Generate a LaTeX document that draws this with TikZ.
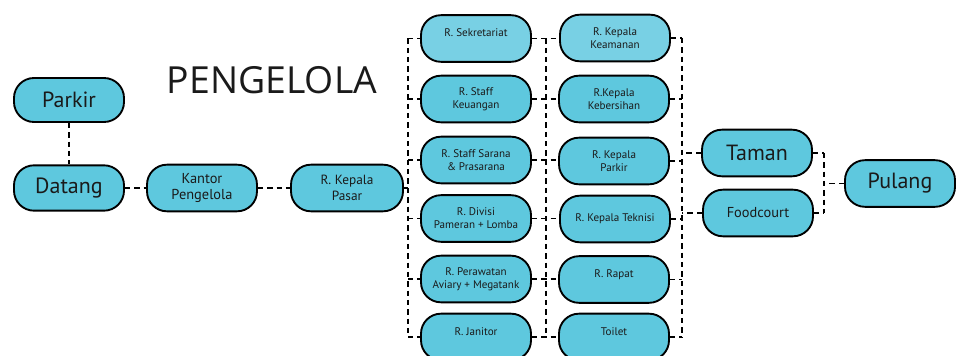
\documentclass[tikz,border=0pt]{standalone}
\usepackage{fontspec}
\setmainfont{PT Sans}
\newfontfamily\titlefont{Open Sans}
\definecolor{boxfill}{HTML}{5EC8DE}
\definecolor{boxlight}{HTML}{78D0E4}
\definecolor{txt}{HTML}{1A1A1A}
\begin{document}
\begin{tikzpicture}[x=0.75pt,y=-0.75pt,
  box/.style={draw=black, line width=1.4pt, fill=boxfill, rounded corners=15pt,
    minimum width=82.5pt, minimum height=35pt, inner sep=0pt, align=center,
    text=txt, font=\fontsize{8.3pt}{9.8pt}\selectfont},
  bigbox/.style={box, font=\fontsize{16.5pt}{18pt}\selectfont},
  midbox/.style={box, font=\fontsize{10.8pt}{12pt}\selectfont},
  link/.style={draw=black, line width=1.1pt, dash pattern=on 4pt off 3pt}]
\useasboundingbox (0,0) rectangle (956,356);
% title
\node[font=\titlefont\fontsize{28pt}{30pt}\selectfont, text=txt] (title) at (272,80) {PENGELOLA};
% left part
\node[bigbox, minimum height=33pt] (parkir) at (69,100) {Parkir};
\node[bigbox, minimum height=34pt] (datang) at (69,188) {Datang};
\node[midbox] (kantor) at (202,188) {Kantor\\Pengelola};
\node[midbox, font=\fontsize{10pt}{12pt}\selectfont, minimum width=84pt] (kpasar) at (347,188) {R. Kepala\\Pasar};
% column 1
\node[box, fill=boxlight] (a1) at (476,38.5) {R. Sekretariat\\[-1pt]\phantom{X}};
\node[box] (a2) at (476,99) {R. Staff\\Keuangan};
\node[box] (a3) at (476,160) {R. Staff Sarana\\\& Prasarana};
\node[box] (a4) at (476,218.5) {R. Divisi\\Pameran + Lomba};
\node[box] (a5) at (476,279) {R. Perawatan\\Aviary + Megatank};
\node[box] (a6) at (476,337) {R. Janitor\\[-1pt]\phantom{X}};
% column 2
\node[box, fill=boxlight] (b1) at (615,38) {R. Kepala\\Keamanan};
\node[box] (b2) at (614,99) {R.Kepala\\Kebersihan};
\node[box] (b3) at (614,161) {R. Kepala\\Parkir};
\node[box] (b4) at (615,219) {R. Kepala Teknisi};
\node[box] (b5) at (614,279.5) {R. Rapat\\[-1pt]\phantom{X}};
\node[box] (b6) at (614,337) {Toilet\\[-1pt]\phantom{X}};
% right part
\node[bigbox] (taman) at (757,153) {Taman};
\node[midbox] (food) at (758,213) {Foodcourt};
\node[bigbox] (pulang) at (900,183.5) {Pulang};
% bus coordinates
\coordinate (busL) at (408,0);
\coordinate (busM) at (546,0);
\coordinate (busR) at (682,0);
\coordinate (busF) at (824,0);
% links left
\draw[link] (parkir) -- (datang);
\draw[link] (datang) -- (kantor);
\draw[link] (kantor) -- (kpasar);
\draw[link] (kpasar.east) -- (busL |- kpasar.east);
\draw[link] (busL |- a1.west) -- (busL |- a6.west);
\foreach \n in {a1,a2,a3,a4,a5,a6}{
  \draw[link] (busL |- \n.west) -- (\n.west);
}
% links middle
\draw[link] (busM |- a1.east) -- (busM |- a6.east);
\draw[link] (a1.east) -- (b1.west |- a1.east);
\draw[link] (a2.east) -- (b2.west |- a2.east);
\draw[link] (a3.east) -- (b3.west |- a3.east);
\draw[link] (a4.east) -- (b4.west |- a4.east);
\draw[link] (a5.east) -- (b5.west |- a5.east);
\draw[link] (a6.east) -- (b6.west |- a6.east);
% links right
\draw[link] (busR |- b1.east) -- (busR |- b6.east);
\foreach \n in {b1,b2,b3,b4,b5,b6}{
  \draw[link] (\n.east) -- (busR |- \n.east);
}
\draw[link] (taman.west) -- (busR |- taman.west);
\draw[link] (food.west) -- (busR |- food.west);
% links final
\draw[link] (taman.east) -- (busF |- taman.east);
\draw[link] (food.east) -- (busF |- food.east);
\draw[link] (busF |- taman.east) -- (busF |- food.east);
\draw[link] (pulang.west) -- (busF |- pulang.west);
\end{tikzpicture}
\end{document}
